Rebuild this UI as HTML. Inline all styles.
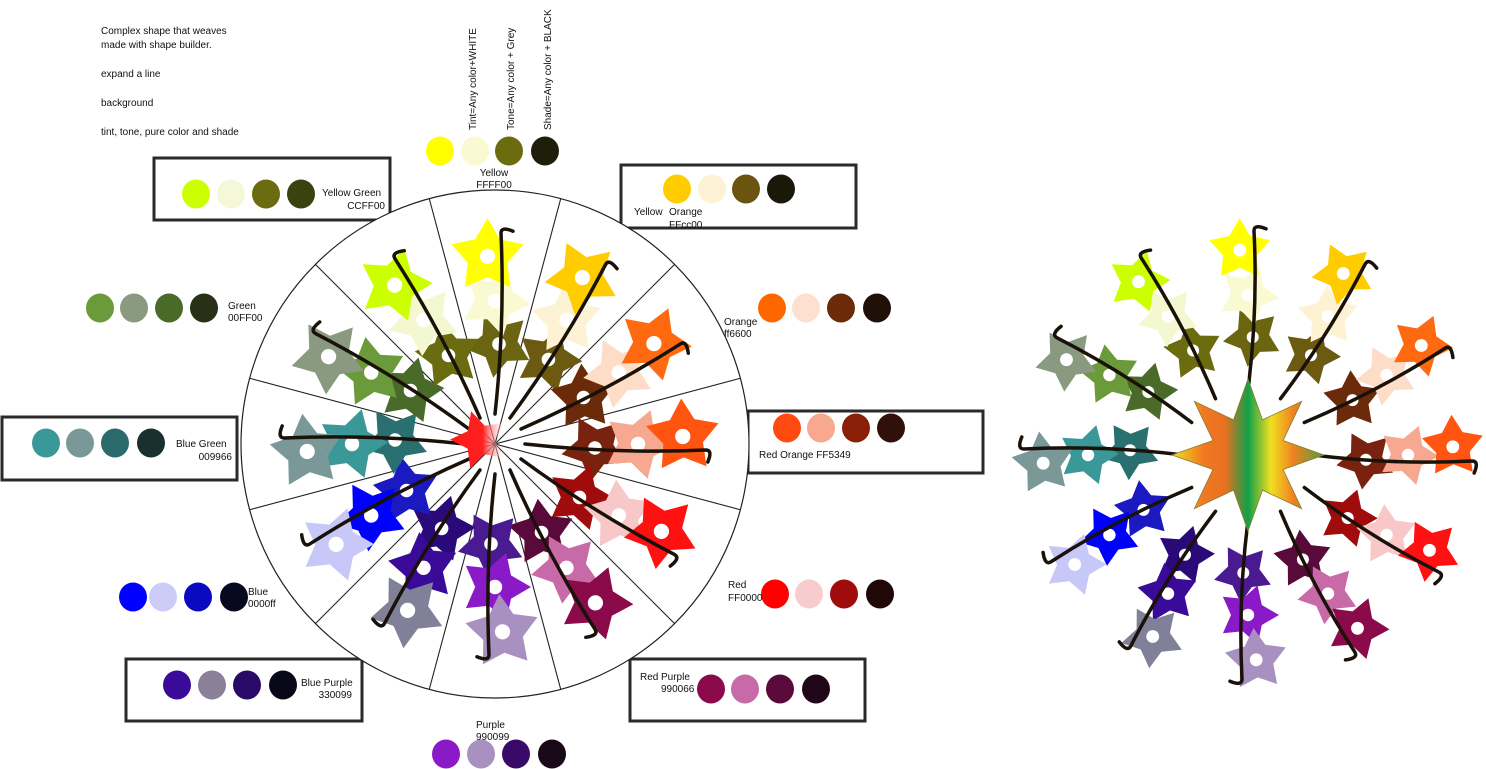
<!DOCTYPE html>
<html><head><meta charset="utf-8">
<style>
html,body{margin:0;padding:0;background:#fff;}
body{width:1486px;height:769px;overflow:hidden;position:relative;font-family:"Liberation Sans",sans-serif;}
svg{position:absolute;left:0;top:0;}
svg text{font-family:"Liberation Sans",sans-serif;font-size:10px;fill:#111;}
</style></head>
<body>
<svg id="s" width="1486" height="769" viewBox="0 0 1486 769" xmlns="http://www.w3.org/2000/svg">
<defs>
<linearGradient id="rg" x1="0" y1="0" x2="1" y2="0">
<stop offset="0" stop-color="#ff1a1a"/><stop offset="0.6" stop-color="#ff2020"/><stop offset="1" stop-color="#fff" stop-opacity="0.2"/>
</linearGradient>
<linearGradient id="cg" x1="0" y1="0" x2="1" y2="0">
<stop offset="0" stop-color="#f0e020"/><stop offset="0.2" stop-color="#f07a20"/><stop offset="0.35" stop-color="#e87020"/>
<stop offset="0.5" stop-color="#10a048"/><stop offset="0.65" stop-color="#f0e020"/><stop offset="0.8" stop-color="#f08020"/><stop offset="1" stop-color="#50a040"/>
</linearGradient>
</defs>
<text x="101" y="34" font-size="11">Complex shape that weaves</text>
<text x="101" y="48" font-size="11">made with shape builder.</text>
<text x="101" y="77" font-size="11">expand a line</text>
<text x="101" y="106" font-size="11">background</text>
<text x="101" y="135" font-size="11">tint, tone, pure color and shade</text>
<text transform="translate(476,130) rotate(-90)" font-size="11">Tint=Any color+WHITE</text>
<text transform="translate(514,130) rotate(-90)" font-size="11">Tone=Any color + Grey</text>
<text transform="translate(551,130) rotate(-90)" font-size="11">Shade=Any color + BLACK</text>
<g id="sw"></g>
<g id="wheel"></g>
<g id="flower"></g>
</svg>
<script>
var NS="http://www.w3.org/2000/svg";
function el(parent,tag,attrs,txt){var e=document.createElementNS(NS,tag);for(var k in attrs)e.setAttribute(k,attrs[k]);if(txt)e.textContent=txt;parent.appendChild(e);return e;}
var sw=document.getElementById('sw');
function box(x,y,w,h){el(sw,'rect',{x:x,y:y,width:w,height:h,fill:'none',stroke:'#2a2a2a','stroke-width':3});}
function circs(xs,y,cols){for(var i=0;i<4;i++)el(sw,'ellipse',{cx:xs[i],cy:y,rx:14,ry:14.5,fill:cols[i]});}
function t(x,y,s,anchor){el(sw,'text',{x:x,y:y,'text-anchor':anchor||'start'},s);}
circs([440,475,509,545],151,['#ffff00','#fafad2','#6b6b10','#1e1e0a']);
t(494,176,'Yellow','middle');t(494,188,'FFFF00','middle');
box(154,158,236,62);circs([196,231,266,301],194,['#ccff00','#f4f8d8','#6b6b10','#3a4210']);
t(322,196,'Yellow Green');t(385,209,'CCFF00','end');
box(621,165,235,63);circs([677,712,746,781],189,['#ffcc00','#fdf3d4','#6b5410','#1a1808']);
t(634,215,'Yellow');t(669,215,'Orange');t(669,228,'FFcc00');
circs([100,134,169,204],308,['#6a9a3a','#8a9a80','#4a6a2a','#283018']);
t(228,309,'Green');t(228,321,'00FF00');
circs([772,806,841,877],308,['#ff6600','#fde0d0','#6b2a0a','#201008']);
t(724,325,'Orange');t(724,337,'ff6600');
box(2,417,235,63);circs([46,80,115,151],443,['#3a9898','#7a9898','#2a6a6a','#183030']);
t(176,447,'Blue  Green');t(232,460,'009966','end');
box(748,411,235,62);circs([787,821,856,891],428,['#ff4a10','#f9a890','#8a2008','#301008']);
t(759,458,'Red Orange FF5349');
circs([133,163,198,234],597,['#0000ff','#ccccf8','#0a0ac0','#080820']);
t(248,595,'Blue');t(248,607,'0000ff');
circs([775,809,844,880],594,['#ff0000','#f8cccc','#a00b0b','#200808']);
t(728,588,'Red');t(728,601,'FF0000');
box(126,659,236,62);circs([177,212,247,283],685,['#3a0a98','#8a8098','#2a0a68','#080818']);
t(301,686,'Blue Purple');t(352,698,'330099','end');
box(630,659,235,62);circs([711,745,780,816],689,['#8a0a4a','#c86aa8','#5a0a3a','#200818']);
t(640,680,'Red');t(661,680,'Purple');t(661,692,'990066');
circs([446,481,516,552],754,['#8a1ac8','#a890c0','#3a0a68','#180818']);
t(476,728,'Purple');t(476,740,'990099');

function starPts(cx,cy,R,r,n,rot){var p=[];for(var i=0;i<2*n;i++){var a=rot+i*Math.PI/n;var rr=i%2?r:R;p.push((cx+rr*Math.sin(a)).toFixed(1)+','+(cy-rr*Math.cos(a)).toFixed(1));}return p.join(' ');}
var groups=[
 [0,['#ffff00','#fafad2','#6b6410']],
 [30,['#ffcc00','#fdf3d4','#6b5a10']],
 [60,['#ff6a10','#fddcc8','#6b2a0a']],
 [90,['#ff5511','#f7a890','#7a2210']],
 [120,['#ff1111','#f8c8c8','#a00b0b']],
 [150,['#8a0a4a','#c86aa8','#5a0a3a']],
 [180,['#a890c0','#8a1ac8','#4a1a90']],
 [210,['#808098','#3a0a98','#2a0a78']],
 [240,['#c8c8f8','#0000ff','#1a1ac0']],
 [270,['#7a9898','#3a9898','#2a7070']],
 [300,['#8a9a80','#6a9a3a','#4a6a2a']],
 [330,['#ccff00','#f4f8d0','#6b6b10']]
];
function drawBloom(g,cx,cy,dists,sizes,stemStart){
 var stems=[];
 groups.forEach(function(gr,gi){
  var base=gr[0]*Math.PI/180;
  var offs=[-0.04,0.0,0.04];
  var ux=Math.sin(base),uy=-Math.cos(base),px=-uy,py=ux;
  var r0=stemStart,r1=dists[0]+sizes[0]*0.6;
  var sx=cx+ux*r0,sy=cy+uy*r0,ex=cx+ux*r1+px*6,ey=cy+uy*r1+py*6;
  var mx=cx+ux*(r0+r1)/2+px*10,my=cy+uy*(r0+r1)/2+py*10;
  var hx=ex+px*12+ux*2,hy=ey+py*12+uy*2;
  stems.push('M'+sx.toFixed(1)+','+sy.toFixed(1)+' Q'+mx.toFixed(1)+','+my.toFixed(1)+' '+ex.toFixed(1)+','+ey.toFixed(1)+' Q'+(ex+ux*7).toFixed(1)+','+(ey+uy*7).toFixed(1)+' '+hx.toFixed(1)+','+hy.toFixed(1));
  for(var k=2;k>=0;k--){
   var a=base+offs[k];var d=dists[k];
   var x=cx+Math.sin(a)*d,y=cy-Math.cos(a)*d;
   el(g,'polygon',{points:starPts(x,y,sizes[k],sizes[k]*0.55,5,base+gi*0.3+k*0.4),fill:gr[1][k]});
   el(g,'circle',{cx:x.toFixed(1),cy:y.toFixed(1),r:sizes[k]*0.2,fill:'#fff'});
  }
 });
 stems.forEach(function(d){el(g,'path',{d:d,fill:'none',stroke:'#1a1208','stroke-width':3.5,'stroke-linecap':'round'});});
}
var w=document.getElementById('wheel');
var CX=495,CY=444,R=254;
el(w,'circle',{cx:CX,cy:CY,r:R,fill:'#fff',stroke:'#222','stroke-width':1.2});
for(var i=0;i<12;i++){var a=(15+30*i)*Math.PI/180;el(w,'line',{x1:CX,y1:CY,x2:CX+R*Math.sin(a),y2:CY-R*Math.cos(a),stroke:'#222','stroke-width':1.1});}
var wb=el(w,'g',{});
drawBloom(wb,CX,CY,[188,143,100],[38,36,34],30);
el(w,'polygon',{points:starPts(480,440,30,15,5,-0.3),fill:'url(#rg)'});
var f=document.getElementById('flower');
var FX=1248,FY=455;
drawBloom(f,FX,FY,[205,160,118],[32,31,30],65);
el(f,'polygon',{points:starPts(FX,FY,76,38,8,0),fill:'url(#cg)',stroke:'#8a7a30','stroke-width':0.8});
</script>
</body></html>
